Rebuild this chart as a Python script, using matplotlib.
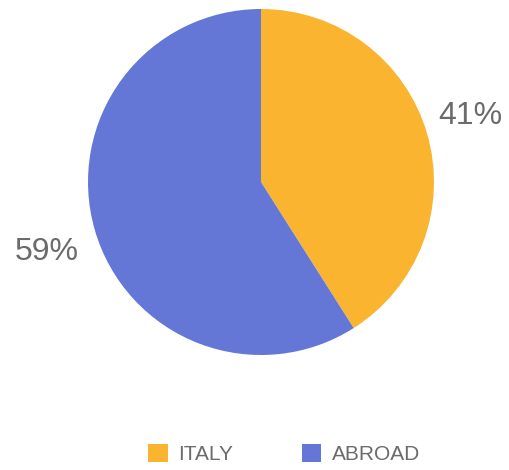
import matplotlib
matplotlib.use("Agg")
import matplotlib.pyplot as plt
from matplotlib.patches import Patch

plt.rcParams['font.family'] = ['Liberation Sans', 'DejaVu Sans']

labels = ['ITALY', 'ABROAD']
shares = [41, 59]
colors = ['#FBB430', '#6577D6']
text_color = '#6b6b6b'

fig = plt.figure(figsize=(5.09, 4.70), dpi=100)
ax = fig.add_axes([0, 0, 1, 1])

wedges, _, pct = ax.pie(shares, colors=colors, startangle=90, counterclock=False,
                        center=(261, 288), radius=173, frame=True,
                        autopct=lambda p: '%d%%' % round(p), pctdistance=1.27,
                        wedgeprops=dict(linewidth=0))
# small nudges so the percent labels sit a bit off the mid-angle line
nudges = [(-2, 5), (-3, -9)]
for t, (dx, dy) in zip(pct, nudges):
    x, y = t.get_position()
    t.set_position((x + dx, y + dy))
    t.set_fontsize(23)
    t.set_color(text_color)
ax.set_xlim(0, 509)
ax.set_ylim(0, 470)
ax.set_aspect('equal')
ax.axis('off')

handles = [Patch(facecolor=c, edgecolor='none') for c in colors]
leg = ax.legend(handles, labels, loc='center', bbox_to_anchor=(284, 16),
                bbox_transform=ax.transData, ncol=2, frameon=False,
                fontsize=15, handlelength=0.95, handleheight=0.95,
                handletextpad=0.5, columnspacing=3.3)
for t in leg.get_texts():
    t.set_color(text_color)

fig.savefig('out.png', dpi=100)
